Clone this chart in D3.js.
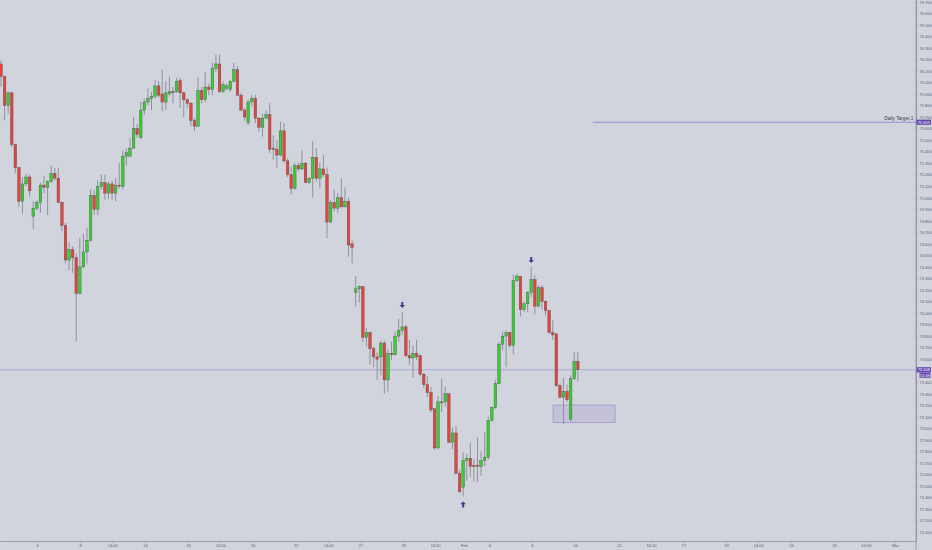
<!DOCTYPE html>
<html>
<head>
<meta charset="utf-8">
<script src="https://cdn.jsdelivr.net/npm/d3@7"></script>
<style>
  html, body { margin: 0; padding: 0; background: #d1d4dc; }
  svg { display: block; font-family: "Liberation Sans", Roboto, sans-serif; }
</style>
</head>
<body>
<svg id="chart" width="932" height="550"></svg>
<script>
// 4h candles, one entry per bar (index 0 = first visible bar)
const open = [
  76.16, 76.05, 75.80, 75.91, 75.46, 75.26, 74.97, 75.12, 75.18, 74.84,
  74.91, 74.96, 75.11, 75.09, 75.14, 75.21, 75.17, 74.96, 74.76, 74.46,
  74.55, 74.48, 74.17, 74.40, 74.53, 74.63, 75.02, 74.90, 75.10, 75.13,
  75.04, 75.12, 75.04, 75.11, 75.10, 75.36, 75.36, 75.43, 75.60, 75.52,
  75.76, 75.83, 75.86, 75.88, 75.97, 75.90, 75.83, 75.90, 75.92, 75.92,
  76.02, 75.91, 75.85, 75.82, 75.67, 75.62, 75.93, 75.85, 75.96, 75.94,
  76.12, 76.16, 75.92, 75.95, 75.94, 76.01, 76.11, 75.89, 75.76, 75.65,
  75.83, 75.86, 75.69, 75.61, 75.69, 75.72, 75.43, 75.42, 75.37, 75.58,
  75.32, 75.20, 75.08, 75.28, 75.25, 75.30, 75.13, 75.17, 75.35, 75.17,
  75.25, 75.20, 74.79, 74.96, 74.91, 75.00, 74.92, 74.97, 74.60, 74.18,
  74.21, 74.23, 73.79, 73.83, 73.69, 73.62, 73.62, 73.74, 73.42, 73.65,
  73.64, 73.80, 73.85, 73.88, 73.63, 73.61, 73.65, 73.63, 73.47, 73.38,
  73.31, 73.17, 72.83, 73.22, 73.23, 73.30, 72.88, 72.96, 72.61, 72.49,
  72.72, 72.74, 72.68, 72.68, 72.67, 72.72, 72.75, 73.07, 73.18, 73.39,
  73.73, 73.80, 73.83, 73.72, 74.28, 74.32, 74.03, 74.08, 74.18, 74.29,
  74.06, 74.22, 74.10, 74.02, 73.83, 73.82, 73.37, 73.27, 73.32, 73.08,
  73.43, 73.58
];
const high = [
  76.19, 76.06, 75.92, 75.92, 75.47, 75.27, 75.18, 75.21, 75.20, 74.97,
  74.98, 75.13, 75.19, 75.15, 75.28, 75.26, 75.26, 74.97, 74.78, 74.61,
  74.58, 74.52, 74.65, 74.69, 74.74, 75.07, 75.07, 75.15, 75.20, 75.20,
  75.14, 75.15, 75.17, 75.30, 75.41, 75.43, 75.52, 75.70, 75.64, 75.83,
  75.86, 75.95, 75.92, 76.02, 76.01, 76.11, 76.01, 76.05, 75.96, 76.04,
  76.04, 75.92, 75.86, 75.83, 75.69, 76.04, 75.96, 76.09, 75.99, 76.17,
  76.24, 76.24, 76.01, 75.99, 76.02, 76.17, 76.14, 75.91, 75.78, 75.85,
  75.89, 75.89, 75.70, 75.73, 75.76, 75.82, 75.54, 75.50, 75.66, 75.65,
  75.34, 75.27, 75.30, 75.31, 75.41, 75.31, 75.18, 75.49, 75.43, 75.31,
  75.37, 75.26, 74.98, 75.07, 75.04, 75.17, 75.09, 75.00, 74.63, 74.32,
  74.24, 74.23, 73.87, 73.84, 73.71, 73.66, 73.76, 73.76, 73.69, 73.75,
  73.84, 73.95, 74.01, 73.90, 73.77, 73.72, 73.77, 73.64, 73.48, 73.45,
  73.36, 73.17, 73.28, 73.43, 73.36, 73.30, 73.01, 73.02, 72.64, 72.79,
  72.78, 72.88, 72.73, 72.92, 72.80, 72.97, 73.10, 73.19, 73.42, 73.75,
  73.84, 73.85, 73.84, 74.33, 74.34, 74.32, 74.10, 74.19, 74.40, 74.33,
  74.24, 74.24, 74.11, 74.03, 73.94, 73.82, 73.39, 73.44, 73.38, 73.46,
  73.66, 73.66
];
const low = [
  75.96, 75.67, 75.73, 75.44, 75.21, 74.92, 74.86, 75.10, 75.01, 74.73,
  74.89, 74.87, 75.04, 74.85, 75.13, 75.15, 74.95, 74.71, 74.43, 74.37,
  74.35, 73.76, 74.16, 74.39, 74.43, 74.62, 74.85, 74.85, 75.07, 74.98,
  74.99, 74.98, 74.97, 75.08, 75.07, 75.28, 75.36, 75.43, 75.52, 75.51,
  75.72, 75.80, 75.76, 75.86, 75.87, 75.75, 75.76, 75.88, 75.82, 75.91,
  75.78, 75.70, 75.78, 75.62, 75.58, 75.62, 75.82, 75.83, 75.89, 75.89,
  76.09, 75.91, 75.91, 75.93, 75.92, 76.00, 75.88, 75.75, 75.67, 75.63,
  75.79, 75.65, 75.57, 75.53, 75.69, 75.39, 75.33, 75.26, 75.36, 75.30,
  75.18, 75.03, 75.07, 75.23, 75.24, 75.13, 75.12, 75.00, 75.14, 75.08,
  75.18, 74.65, 74.78, 74.88, 74.87, 74.92, 74.92, 74.49, 74.43, 74.06,
  74.09, 73.75, 73.71, 73.55, 73.53, 73.42, 73.46, 73.30, 73.32, 73.59,
  73.63, 73.75, 73.81, 73.62, 73.55, 73.44, 73.59, 73.45, 73.35, 73.27,
  73.14, 72.81, 72.82, 73.14, 73.19, 72.87, 72.82, 72.60, 72.44, 72.41,
  72.55, 72.58, 72.54, 72.53, 72.59, 72.67, 72.73, 73.06, 73.17, 73.38,
  73.68, 73.53, 73.70, 73.64, 74.27, 73.97, 74.01, 74.01, 74.14, 73.99,
  74.05, 74.03, 73.98, 73.82, 73.77, 73.36, 73.26, 73.04, 73.23, 73.06,
  73.42, 73.41
];
const close = [
  76.05, 75.80, 75.91, 75.46, 75.26, 74.97, 75.12, 75.18, 75.06, 74.91,
  74.96, 75.11, 75.09, 75.14, 75.21, 75.17, 74.96, 74.76, 74.46, 74.55,
  74.48, 74.17, 74.40, 74.53, 74.63, 75.02, 74.90, 75.10, 75.13, 75.04,
  75.12, 75.04, 75.11, 75.10, 75.36, 75.39, 75.43, 75.60, 75.55, 75.76,
  75.83, 75.86, 75.88, 75.97, 75.89, 75.83, 75.91, 75.92, 75.91, 76.01,
  75.91, 75.85, 75.82, 75.67, 75.62, 75.93, 75.85, 75.96, 75.94, 76.12,
  76.16, 75.92, 75.98, 75.97, 76.01, 76.11, 75.89, 75.76, 75.70, 75.83,
  75.86, 75.69, 75.61, 75.69, 75.72, 75.42, 75.42, 75.37, 75.58, 75.32,
  75.20, 75.08, 75.28, 75.25, 75.30, 75.13, 75.17, 75.35, 75.17, 75.25,
  75.20, 74.79, 74.96, 74.91, 75.00, 74.92, 74.97, 74.59, 74.57, 74.21,
  74.23, 73.79, 73.83, 73.69, 73.62, 73.60, 73.74, 73.42, 73.65, 73.64,
  73.80, 73.85, 73.88, 73.63, 73.61, 73.65, 73.62, 73.47, 73.38, 73.31,
  73.16, 72.83, 73.23, 73.23, 73.30, 72.88, 72.96, 72.61, 72.45, 72.72,
  72.74, 72.67, 72.67, 72.67, 72.72, 72.75, 73.07, 73.18, 73.39, 73.73,
  73.80, 73.83, 73.72, 74.28, 74.32, 74.03, 74.08, 74.18, 74.29, 74.06,
  74.22, 74.10, 74.02, 73.83, 73.81, 73.37, 73.27, 73.32, 73.25, 73.43,
  73.58, 73.508
];

// time axis: bar index where each label sits, and its text
const timeTickPos = [10.05, 22.1, 31.05, 40.2, 52.25, 61.2, 70.25, 82.25, 91.35, 100.3,
  112.3, 121.2, 129.2, 136.3, 148.2, 160.3, 172.4, 181.4, 190.4, 202.4,
  211.35, 220.5, 232.5, 241.4, 249.5];
const timeTickLabels = ["6", "8", "14:00", "13", "15", "14:00", "20", "22", "14:00", "27",
  "29", "14:00", "Feb", "4", "6", "10", "12", "14:00", "17", "19",
  "14:00", "24", "26", "14:00", "Mar"];

const priceTicks = [72.1, 72.2, 72.3, 72.4, 72.5, 72.6, 72.7, 72.8, 72.9, 73.0,
  73.1, 73.2, 73.3, 73.4, 73.5, 73.6, 73.7, 73.8, 73.9, 74.0,
  74.1, 74.2, 74.3, 74.4, 74.5, 74.6, 74.7, 74.8, 74.9, 75.0,
  75.1, 75.2, 75.3, 75.4, 75.5, 75.6, 75.7, 75.8, 75.9, 76.0,
  76.1, 76.2, 76.3, 76.4, 76.5, 76.6, 76.7];

// annotations
const signalBars = [112, 129, 148];
const signalDirs = ["down", "up", "down"];
const targetPrice = 75.655;
const targetStartBar = 165.2;
const targetLabel = "Daily Target 1";
const lastPrice = 73.508;
const countdown = "52:49";
const zoneBars = [154.1, 171.4];
const zonePrices = [73.049, 73.202];

const W = 932, H = 550;
const plotRight = 916, plotBottom = 541;
const svg = d3.select("#chart");

const x = d3.scaleLinear().domain([-0.28, 255.4]).range([0, plotRight]);
const y = d3.scaleLinear().domain([72.023, 76.715]).range([plotBottom, 0]);

const upColor = "#36d12c", downColor = "#e8423a";
const purple = "#6247b0", lineColor = "#9484d6";

const candles = open.map((o, i) => ({ i, o, h: high[i], l: low[i], c: close[i] }));

// price zone rectangle
svg.append("rect")
    .attr("x", x(zoneBars[0]))
    .attr("y", y(zonePrices[1]))
    .attr("width", x(zoneBars[1]) - x(zoneBars[0]))
    .attr("height", y(zonePrices[0]) - y(zonePrices[1]))
    .attr("fill", "rgba(150,130,210,0.22)")
    .attr("stroke", "#9d90d4")
    .attr("stroke-width", 0.7);

// last price line
svg.append("line")
    .attr("x1", 0).attr("x2", plotRight)
    .attr("y1", y(lastPrice)).attr("y2", y(lastPrice))
    .attr("stroke", lineColor).attr("stroke-opacity", 0.8)
    .attr("stroke-width", 0.7);

// target line
svg.append("line")
    .attr("x1", x(targetStartBar)).attr("x2", plotRight)
    .attr("y1", y(targetPrice)).attr("y2", y(targetPrice))
    .attr("stroke", lineColor).attr("stroke-width", 0.9);

svg.append("text")
    .attr("x", plotRight - 2.5)
    .attr("y", y(targetPrice) - 2.2)
    .attr("text-anchor", "end")
    .attr("font-size", 4.8)
    .attr("fill", "#363a45")
    .text(targetLabel);

// candles
const g = svg.append("g");
const bodyW = 2.6;

g.selectAll(".wick")
    .data(candles)
    .join("line")
    .attr("class", "wick")
    .attr("x1", d => x(d.i)).attr("x2", d => x(d.i))
    .attr("y1", d => y(d.h)).attr("y2", d => y(d.l))
    .attr("stroke", "#7e818a")
    .attr("stroke-width", 0.8);

g.selectAll(".body")
    .data(candles)
    .join("rect")
    .attr("class", "body")
    .attr("x", d => x(d.i) - bodyW / 2)
    .attr("y", d => y(Math.max(d.o, d.c)))
    .attr("width", bodyW)
    .attr("height", d => Math.max(0.8, Math.abs(y(d.o) - y(d.c))))
    .attr("fill", d => d.c >= d.o ? upColor : downColor)
    .attr("stroke", "#4d4f55")
    .attr("stroke-width", 0.4);

// signal arrows
signalBars.forEach((b, k) => {
    const cx = x(b);
    const down = signalDirs[k] === "down";
    const tipY = down ? y(high[b]) - 4 : y(low[b]) + 5;
    const s = down ? -1 : 1;   // direction from tip to tail
    const p = d3.path();
    p.moveTo(cx, tipY);
    p.lineTo(cx + 2.8, tipY + s * 2.8);
    p.lineTo(cx + 1, tipY + s * 2.8);
    p.lineTo(cx + 1, tipY + s * 6);
    p.lineTo(cx - 1, tipY + s * 6);
    p.lineTo(cx - 1, tipY + s * 2.8);
    p.lineTo(cx - 2.8, tipY + s * 2.8);
    p.closePath();
    svg.append("path").attr("d", p.toString()).attr("fill", "#4a3a8e");
});

// price axis (the label under the last-price box is not shown)
const yAxis = svg.append("g")
    .attr("transform", `translate(${plotRight},0)`)
    .call(d3.axisRight(y).tickValues(priceTicks).tickSize(2).tickSizeOuter(0)
        .tickFormat(d3.format(".3f")));
yAxis.select(".domain").attr("stroke", "#8f929a").attr("stroke-width", 0.8);
yAxis.selectAll(".tick line").attr("stroke", "#8f929a").attr("stroke-width", 0.5);
yAxis.selectAll(".tick text").attr("x", 3.5).attr("font-size", 4)
    .attr("fill", "#5d606b").attr("font-family", "Liberation Sans, sans-serif");
yAxis.selectAll(".tick")
    .filter(d => Math.abs(y(d) - y(lastPrice)) < 6 || Math.abs(y(d) - y(targetPrice)) < 3.5)
    .select("text").remove();
svg.append("line")
    .attr("x1", plotRight).attr("x2", plotRight)
    .attr("y1", 0).attr("y2", H)
    .attr("stroke", "#8f929a").attr("stroke-width", 0.8);

// time axis
const xAxis = svg.append("g")
    .attr("transform", `translate(0,${plotBottom})`)
    .call(d3.axisBottom(x).tickValues(timeTickPos).tickSize(2).tickSizeOuter(0)
        .tickFormat((d, k) => timeTickLabels[k]));
xAxis.select(".domain").attr("stroke", "#8f929a").attr("stroke-width", 0.8);
xAxis.selectAll(".tick line").attr("stroke", "#8f929a").attr("stroke-width", 0.5);
xAxis.selectAll(".tick text").attr("y", 3).attr("font-size", 4)
    .attr("fill", "#5d606b").attr("font-family", "Liberation Sans, sans-serif");

// axis label boxes
function priceBox(txt, x0, yc, w) {
    svg.append("rect")
        .attr("x", x0).attr("y", yc - 2.6)
        .attr("width", w).attr("height", 5.2)
        .attr("fill", purple);
    svg.append("text")
        .attr("x", x0 + w / 2).attr("y", yc + 1.4)
        .attr("text-anchor", "middle")
        .attr("font-size", 4).attr("fill", "#ffffff")
        .text(txt);
}
priceBox(d3.format(".3f")(targetPrice), plotRight + 0.5, y(targetPrice), 14.5);
priceBox(d3.format(".3f")(lastPrice), plotRight + 0.5, y(lastPrice), 14.5);
priceBox(countdown, plotRight + 3.5, y(lastPrice) + 5.4, 11);
</script>
</body>
</html>
